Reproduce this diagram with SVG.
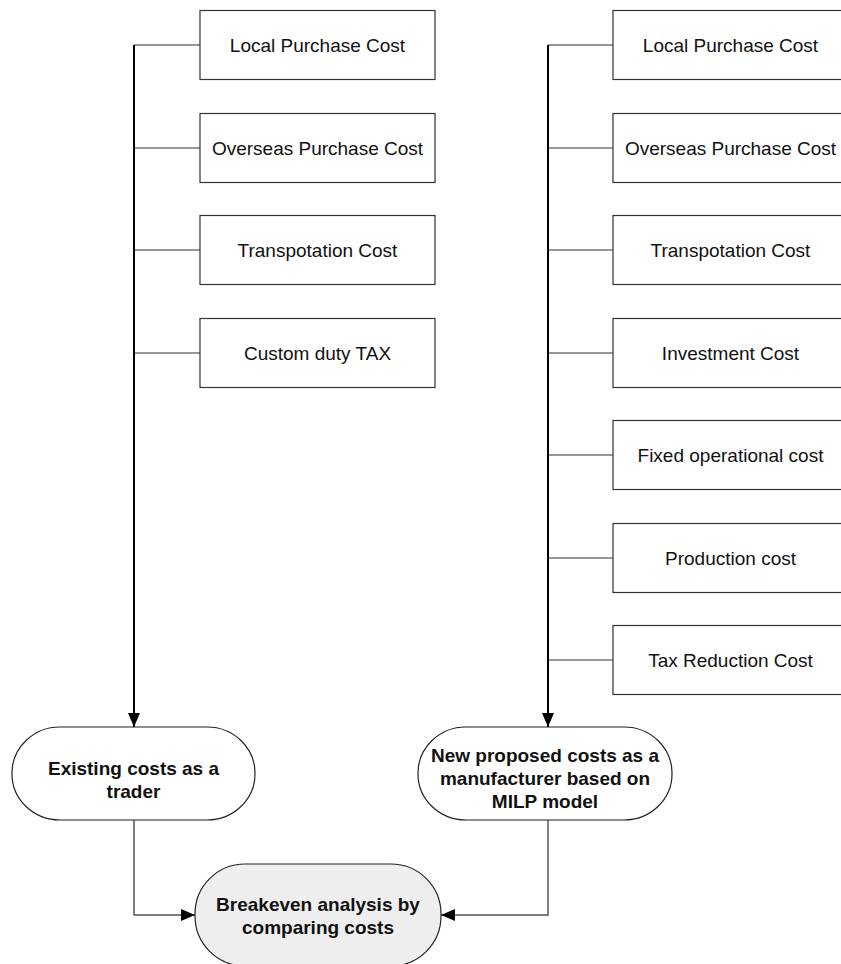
<svg xmlns="http://www.w3.org/2000/svg" width="841" height="964" viewBox="0 0 841 964">
<style>
.box{fill:#fff;stroke:#333;stroke-width:1.2}
.oval{fill:#fff;stroke:#222;stroke-width:1.2}
.t{font-family:"Liberation Sans",Arial,sans-serif;font-size:19px;fill:#111;text-anchor:middle}
.b{font-family:"Liberation Sans",Arial,sans-serif;font-size:19px;font-weight:bold;fill:#111;text-anchor:middle}
.br{fill:none;stroke:#333;stroke-width:1.2}
.tr{fill:none;stroke:#000;stroke-width:2}
.cn{fill:none;stroke:#555;stroke-width:1.5}
</style>
<defs>
<marker id="ah" markerWidth="14" markerHeight="12" refX="14" refY="6" orient="auto" markerUnits="userSpaceOnUse">
<path d="M0,0 L14,6 L0,12 Z" fill="#000"/>
</marker>
</defs>
<rect width="841" height="964" fill="#fff"/>
<g id="connectors">
<path class="br" d="M200,45 H134 M134,148 H200 M134,250 H200 M134,353 H200"/>
<path class="tr" d="M134,45 V727" marker-end="url(#ah)"/>
<path class="br" d="M613,45 H548 M548,148 H613 M548,250 H613 M548,353 H613 M548,455 H613 M548,558 H613 M548,660 H613"/>
<path class="tr" d="M548,45 V727" marker-end="url(#ah)"/>
<path class="cn" d="M134,820 V915 H195" marker-end="url(#ah)"/>
<path class="cn" d="M548,820 V915 H441" marker-end="url(#ah)"/>
</g>
<g id="l1"><rect class="box" x="200" y="10.5" width="235" height="69"/><text class="t" x="317.5" y="51.5">Local Purchase Cost</text></g>
<g id="l2"><rect class="box" x="200" y="113.5" width="235" height="69"/><text class="t" x="317.5" y="154.5">Overseas Purchase Cost</text></g>
<g id="l3"><rect class="box" x="200" y="215.5" width="235" height="69"/><text class="t" x="317.5" y="256.5">Transpotation Cost</text></g>
<g id="l4"><rect class="box" x="200" y="318.5" width="235" height="69"/><text class="t" x="317.5" y="359.5">Custom duty TAX</text></g>
<g id="r1"><rect class="box" x="613" y="10.5" width="235" height="69"/><text class="t" x="730.5" y="51.5">Local Purchase Cost</text></g>
<g id="r2"><rect class="box" x="613" y="113.5" width="235" height="69"/><text class="t" x="730.5" y="154.5">Overseas Purchase Cost</text></g>
<g id="r3"><rect class="box" x="613" y="215.5" width="235" height="69"/><text class="t" x="730.5" y="256.5">Transpotation Cost</text></g>
<g id="r4"><rect class="box" x="613" y="318.5" width="235" height="69"/><text class="t" x="730.5" y="359.5">Investment Cost</text></g>
<g id="r5"><rect class="box" x="613" y="420.5" width="235" height="69"/><text class="t" x="730.5" y="461.5">Fixed operational cost</text></g>
<g id="r6"><rect class="box" x="613" y="523.5" width="235" height="69"/><text class="t" x="730.5" y="564.5">Production cost</text></g>
<g id="r7"><rect class="box" x="613" y="625.5" width="235" height="69"/><text class="t" x="730.5" y="666.5">Tax Reduction Cost</text></g>
<g id="existing"><rect class="oval" x="12" y="727" width="243" height="93" rx="48" ry="46"/><text class="b" x="133.5" y="775">Existing costs as a</text><text class="b" x="133.5" y="798">trader</text></g>
<g id="proposed"><rect class="oval" x="418" y="727" width="254" height="93" rx="48" ry="46"/><text class="b" x="545" y="762">New proposed costs as a</text><text class="b" x="545" y="785">manufacturer based on</text><text class="b" x="545" y="808">MILP model</text></g>
<g id="breakeven"><rect class="oval" x="195" y="864" width="246" height="102" rx="50" ry="50" style="fill:#eeeeee"/><text class="b" x="318" y="911">Breakeven analysis by</text><text class="b" x="318" y="934">comparing costs</text></g>
</svg>
